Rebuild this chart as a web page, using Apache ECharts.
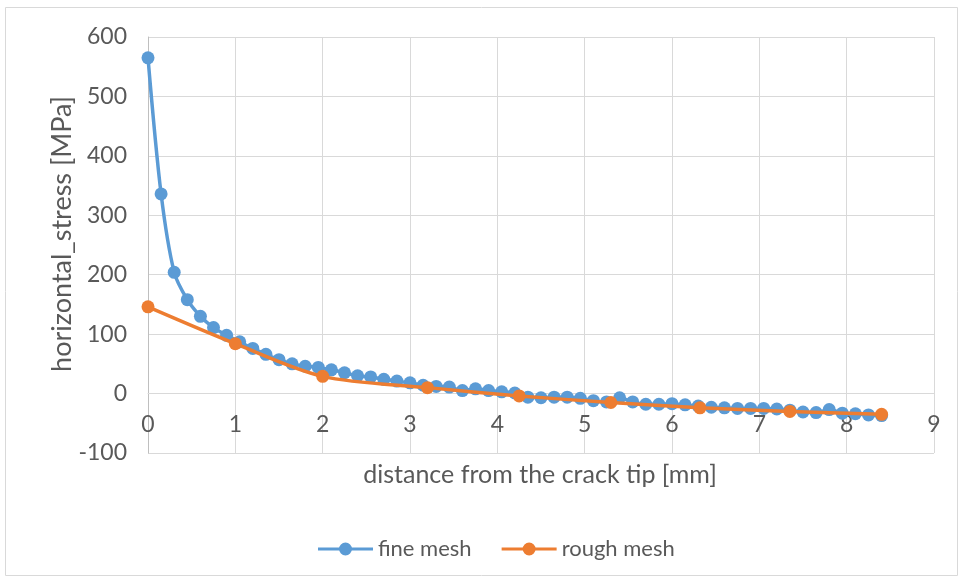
<!DOCTYPE html>
<html>
<head>
<meta charset="utf-8">
<script src="https://cdn.jsdelivr.net/npm/echarts@6/dist/echarts.min.js"></script>
<style>html,body{margin:0;padding:0;background:#fff}#c{width:960px;height:580px}</style>
</head>
<body>
<div id="c"></div>
<script>
const fineX = [0,0.15,0.3,0.45,0.6,0.75,0.9,1.05,1.2,1.35,1.5,1.65,1.8,1.95,2.1,2.25,2.4,2.55,2.7,2.85,3,3.15,3.3,3.45,3.6,3.75,3.9,4.05,4.2,4.35,4.5,4.65,4.8,4.95,5.1,5.25,5.4,5.55,5.7,5.85,6,6.15,6.3,6.45,6.6,6.75,6.9,7.05,7.2,7.35,7.5,7.65,7.8,7.95,8.1,8.25,8.4];
const fineY = [565,336,204,158,130,111,98,87,76,66,57,50,46,44,40,35,30,28,24,21,18,14,12,11,5,8,5,3,1,-6,-7,-6,-6,-8,-12,-14,-7,-14,-18,-18,-17,-19,-21,-23,-24,-25,-25,-25,-26,-28,-31,-32,-27,-33,-34,-36,-37];
const roughX = [0,1,2,3.2,4.25,5.3,6.32,7.35,8.4];
const roughY = [146,84,29,10,-4,-15,-24,-30,-35];
const xTicks = [0,1,2,3,4,5,6,7,8,9];
const yTicks = [-100,0,100,200,300,400,500,600];
const names = ['fine mesh','rough mesh'];
const xTitle = 'distance from the crack tip [mm]';
const yTitle = 'horizontal_stress [MPa]';

const FONT = 'Lato';
const TXT = '#595959';
const ICON = 'path://M0,6.5H55V9.5H0Z M34,8A6.5,6.5,0,1,1,21,8A6.5,6.5,0,1,1,34,8Z';
const chart = echarts.init(document.getElementById('c'));
chart.setOption({
  animation: false,
  textStyle: {fontFamily: FONT},
  graphic: [
    {type:'rect', shape:{x:5.5,y:7.5,width:952,height:568}, style:{fill:'none',stroke:'#d9d9d9',lineWidth:1}, silent:true, z:-10},
    {type:'text', x: 540, y: 475, style:{text: xTitle, font: '25px Lato', fill: TXT, align:'center', verticalAlign:'middle'}},
    {type:'text', x: 62, y: 234, rotation: Math.PI/2, style:{text: yTitle, font: '27px Lato', fill: TXT, align:'center', verticalAlign:'middle'}}
  ],
  grid: {left:148, right:26, top:37, bottom:127, containLabel:false},
  legend: {
    data: names.map(n => ({name: n, icon: ICON})), top: 533, left: 313, itemWidth: 55, itemHeight: 13, itemGap: 30,
    textStyle: {fontFamily: FONT, fontSize: 22, color: TXT}
  },
  xAxis: {
    type: 'value', min: xTicks[0], max: xTicks[xTicks.length-1], interval: 1,
    position: 'bottom', offset: -59.4,
    axisLine: {show: true, onZero: false, lineStyle: {color: '#d9d9d9', width: 1}},
    axisTick: {show: false},
    axisLabel: {fontFamily: FONT, fontSize: 23, color: TXT, margin: 19},
    splitLine: {show: true, lineStyle: {color: '#d9d9d9', width: 1}}
  },
  yAxis: {
    type: 'value', min: yTicks[0], max: yTicks[yTicks.length-1], interval: 100,
    axisLine: {show: true, onZero: false, lineStyle: {color: '#bfbfbf', width: 1}},
    axisTick: {show: false},
    axisLabel: {fontFamily: FONT, fontSize: 23, color: TXT, margin: 21},
    splitLine: {show: true, lineStyle: {color: '#d9d9d9', width: 1}}
  },
  series: [
    {name: names[0], type: 'line', data: fineX.map((x,i)=>[x,fineY[i]]), smooth: 0.3, z: 2,
     symbol: 'circle', symbolSize: 13, lineStyle: {color:'#5b9bd5', width: 3.5}, itemStyle: {color:'#5b9bd5'}},
    {name: names[1], type: 'line', data: roughX.map((x,i)=>[x,roughY[i]]), smooth: 0.3, z: 3,
     symbol: 'circle', symbolSize: 13, lineStyle: {color:'#ed7d31', width: 3.5}, itemStyle: {color:'#ed7d31'}}
  ]
});
</script>
</body>
</html>
